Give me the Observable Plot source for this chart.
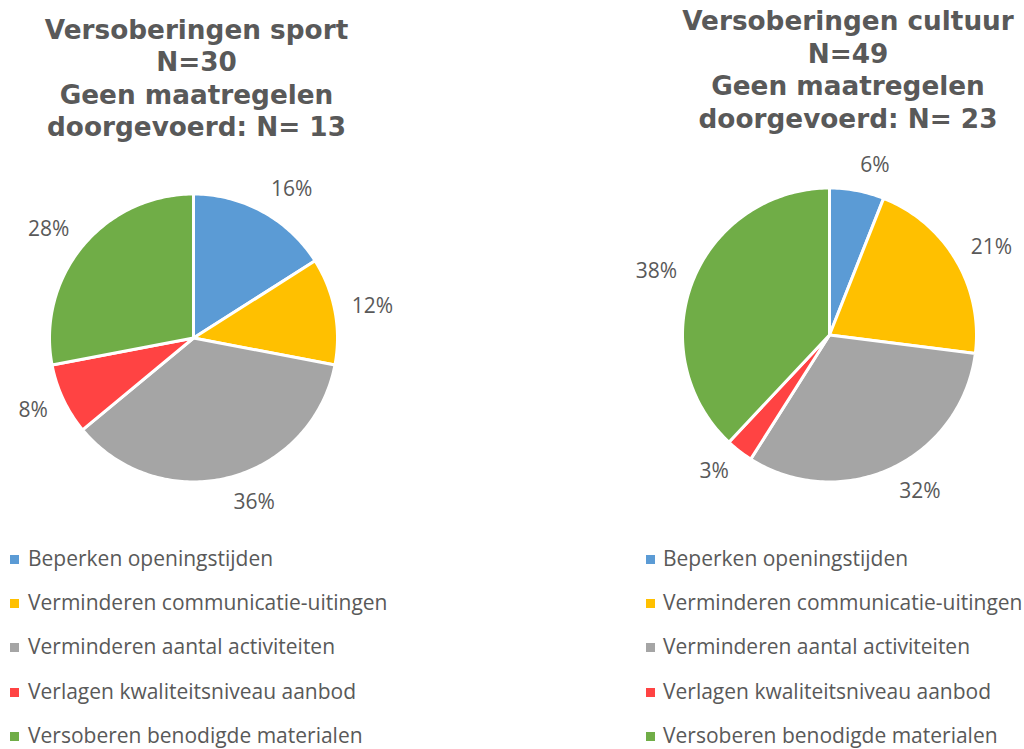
<!DOCTYPE html>
<html><head><meta charset="utf-8">
<script src="https://cdn.jsdelivr.net/npm/d3@7"></script>
<script src="https://cdn.jsdelivr.net/npm/@observablehq/plot@0.6"></script>
<style>
body{margin:0;background:#fff;}
#root{position:relative;width:1024px;height:749px;overflow:hidden;font-family:"Open Sans",sans-serif;color:#595959;}
.title{position:absolute;width:440px;text-align:center;font-family:"DejaVu Sans",Verdana,sans-serif;font-weight:bold;font-size:26.3px;line-height:32.5px;color:#595959;white-space:nowrap;}
.row{position:absolute;white-space:nowrap;font-size:21px;line-height:20px;color:#595959;}
.sw{position:absolute;width:9px;height:9px;}
</style></head>
<body><div id="root"></div>
<script>
const categories = ["Beperken openingstijden","Verminderen communicatie-uitingen","Verminderen aantal activiteiten","Verlagen kwaliteitsniveau aanbod","Versoberen benodigde materialen"];
const colors = ["#5B9BD5","#FFC000","#A5A5A5","#FF4343","#70AD47"];
const sportValues = [16,12,36,8,28];
const cultuurValues = [6,21,32,3,38];
const sportTitle = ["Versoberingen sport","N=30","Geen maatregelen","doorgevoerd: N= 13"];
const cultuurTitle = ["Versoberingen cultuur","N=49","Geen maatregelen","doorgevoerd: N= 23"];

const root = document.getElementById("root");

function pie(values, {width, height, cx, cy, r, gap}) {
  const total = d3.sum(values);
  let acc = 0;
  const pts = [], labels = [];
  const lr = r + gap;
  values.forEach((v, i) => {
    const a0 = acc / total * 2 * Math.PI; acc += v; const a1 = acc / total * 2 * Math.PI;
    const n = Math.max(2, Math.ceil((a1 - a0) / (Math.PI / 180)));
    const cat = categories[i];
    pts.push({cat, x: 0, y: 0});
    for (let k = 0; k <= n; k++) {
      const a = a0 + (a1 - a0) * k / n;
      pts.push({cat, x: r * Math.sin(a), y: r * Math.cos(a)});
    }
    pts.push({cat, x: 0, y: 0});
    const am = (a0 + a1) / 2;
    const s = Math.sin(am), c = Math.cos(am);
    labels.push({text: v + "%", x: lr * s, y: lr * c + 9 * c, right: s >= 0});
  });
  return Plot.plot({
    width, height, margin: 0,
    style: {fontFamily: "'Open Sans', sans-serif", background: "transparent", overflow: "visible"},
    x: {domain: [-cx, width - cx], axis: null},
    y: {domain: [-(height - cy), cy], axis: null},
    color: {domain: categories, range: colors},
    marks: [
      Plot.line(pts, {x: "x", y: "y", z: "cat", fill: "cat", stroke: "white", strokeWidth: 3, strokeLinejoin: "round"}),
      Plot.text(labels.filter(d => d.right), {x: "x", y: "y", text: "text", textAnchor: "start", fontSize: 21, fill: "#595959"}),
      Plot.text(labels.filter(d => !d.right), {x: "x", y: "y", text: "text", textAnchor: "end", fontSize: 21, fill: "#595959"})
    ]
  });
}

function place(el, left, top) {
  el.style.position = "absolute"; el.style.left = left + "px"; el.style.top = top + "px";
  root.appendChild(el);
}

function title(lines, centerX, top) {
  const d = document.createElement("div");
  d.className = "title";
  d.innerHTML = lines.map(s => s.replace(/&/g,"&amp;")).join("<br>");
  d.style.left = (centerX - 220) + "px"; d.style.top = top + "px";
  root.appendChild(d);
}

function legend(swX, textX) {
  categories.forEach((c, i) => {
    const base = 566 + i * 44.2;
    const s = document.createElement("div");
    s.className = "sw"; s.style.background = colors[i];
    s.style.left = swX + "px"; s.style.top = (base - 11) + "px";
    root.appendChild(s);
    const t = document.createElement("div");
    t.className = "row"; t.textContent = c;
    t.style.left = textX + "px"; t.style.top = (base - 18.1) + "px";
    root.appendChild(t);
  });
}

title(sportTitle, 196.5, 13.9);
title(cultuurTitle, 848, 5.3);

const p1 = pie(sportValues, {width: 420, height: 400, cx: 193, cy: 187.5, r: 144, gap: 17});
place(p1, 0, 150);
const p2 = pie(cultuurValues, {width: 424, height: 400, cx: 229, cy: 194.5, r: 147, gap: 17});
place(p2, 600, 140);

legend(10, 28);
legend(646, 663);
</script>
</body></html>
